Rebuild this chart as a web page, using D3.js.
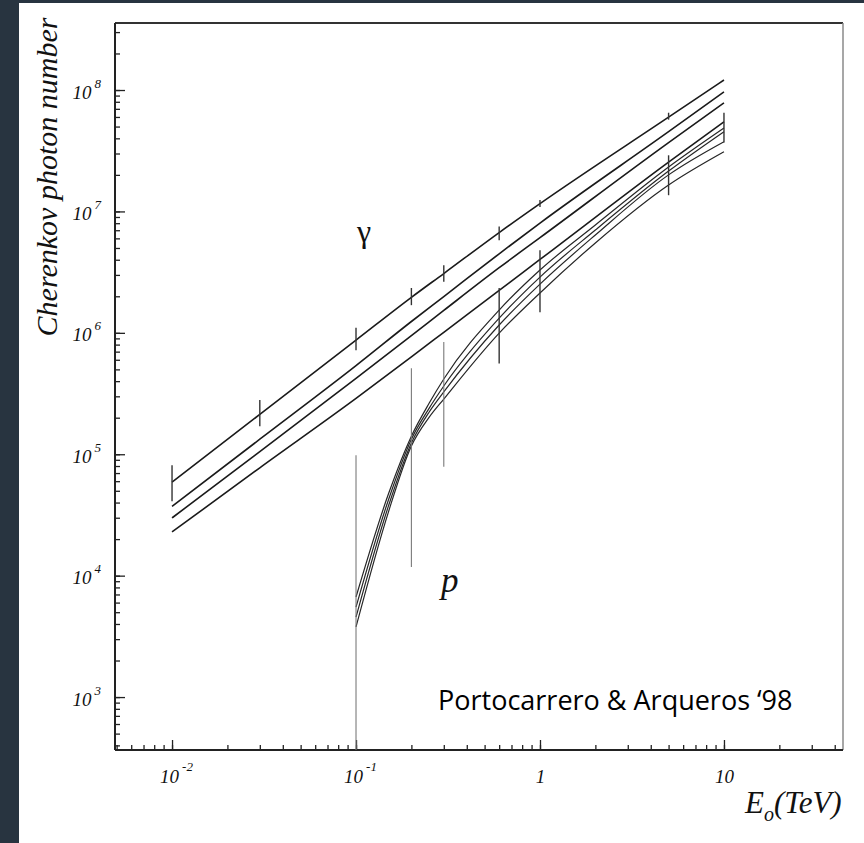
<!DOCTYPE html>
<html>
<head>
<meta charset="utf-8">
<script src="https://cdn.jsdelivr.net/npm/d3@7"></script>
<style>
  body { margin: 0; background: #283440; }
  svg { display: block; }
</style>
</head>
<body>
<div id="chart"></div>
<script>
// primary energies (TeV) the curves were read at
const gammaE = [0.01, 0.03, 0.1, 0.2, 0.3, 0.6, 1, 5, 10];
const gamma1 = [5.89e4, 2.13e5, 8.71e5, 1.96e6, 3.08e6, 6.70e6, 1.16e7, 5.98e7, 1.21e8];
const gamma2 = [3.72e4, 1.33e5, 5.37e5, 1.24e6, 1.99e6, 4.48e6, 8.02e6, 4.54e7, 9.64e7];
const gamma3 = [2.99e4, 1.05e5, 4.22e5, 9.48e5, 1.53e6, 3.44e6, 6.08e6, 3.69e7, 7.83e7];
const gamma4 = [2.29e4, 7.73e4, 2.88e5, 6.34e5, 1.01e6, 2.24e6, 4.02e6, 2.55e7, 5.48e7];

const protonE = [0.1, 0.15, 0.2, 0.25, 0.3, 0.6, 1, 2, 5, 10];
const proton1 = [6.67e3, 4.70e4, 1.41e5, 2.64e5, 4.17e5, 1.54e6, 3.29e6, 7.73e6, 2.32e7, 4.86e7];
const proton2 = [5.51e3, 4.20e4, 1.33e5, 2.40e5, 3.65e5, 1.32e6, 2.88e6, 7.03e6, 2.15e7, 4.54e7];
const proton3 = [4.56e3, 3.74e4, 1.24e5, 2.23e5, 3.26e5, 1.16e6, 2.52e6, 6.40e6, 2.00e7, 3.75e7];
const proton4 = [3.78e3, 3.34e4, 1.17e5, 2.02e5, 2.85e5, 9.95e5, 2.13e6, 5.50e6, 1.65e7, 3.10e7];

// fluctuation bars
const gammaErrE  = [0.01, 0.03, 0.1, 0.2, 0.3, 0.6, 1, 5];
const gammaErrHi = [8.1e4, 2.8e5, 1.1e6, 2.34e6, 3.6e6, 7.5e6, 1.24e7, 6.5e7];
const gammaErrLo = [4.1e4, 1.7e5, 7.2e5, 1.69e6, 2.64e6, 5.8e6, 1.09e7, 5.7e7];

const protonErrE  = [0.1, 0.2, 0.3, 0.6, 1, 5, 10];
const protonErrHi = [9.8e4, 5.1e5, 8.4e5, 2.34e6, 4.8e6, 2.9e7, 6.5e7];
const protonErrLo = [300, 1.18e4, 7.9e4, 5.6e5, 1.48e6, 1.36e7, 3.7e7];

const yMajor = [1e3, 1e4, 1e5, 1e6, 1e7, 1e8];
const xMajor = [0.01, 0.1, 1, 10];
const xMajorLabels = [["10", "-2"], ["10", "-1"], ["1", ""], ["10", ""]];

const width = 864, height = 843;
const m = { left: 115, right: 843, top: 23, bottom: 750 };

const x = d3.scaleLog().domain([Math.pow(10, -2.31), Math.pow(10, 1.647)]).range([m.left, m.right]);
const y = d3.scaleLog().domain([Math.pow(10, 2.564), Math.pow(10, 8.552)]).range([m.bottom, m.top]);

const svg = d3.select("#chart").append("svg")
  .attr("width", width)
  .attr("height", height);

svg.append("rect")
  .attr("x", 19).attr("y", 3)
  .attr("width", width - 19).attr("height", height - 3)
  .attr("fill", "#ffffff");

svg.append("clipPath").attr("id", "plot-clip")
  .append("rect")
  .attr("x", m.left).attr("y", m.top)
  .attr("width", m.right - m.left).attr("height", m.bottom - m.top);

const serif = "'Liberation Serif', 'DejaVu Serif', serif";

// ---- axes (ticks point inward) ----
const yMinor = svg.append("g")
  .attr("transform", `translate(${m.left},0)`)
  .call(d3.axisLeft(y).ticks(6).tickSize(-5).tickFormat(""));

const yMaj = svg.append("g")
  .attr("transform", `translate(${m.left},0)`)
  .call(d3.axisLeft(y).tickValues(yMajor).tickSize(-10).tickFormat(""));

const xMinor = svg.append("g")
  .attr("transform", `translate(0,${m.bottom})`)
  .call(d3.axisBottom(x).ticks(4).tickSize(-5).tickFormat(""));

const xMaj = svg.append("g")
  .attr("transform", `translate(0,${m.bottom})`)
  .call(d3.axisBottom(x).tickValues(xMajor).tickSize(-10).tickFormat(""));

[yMinor, yMaj, xMinor, xMaj].forEach(g => {
  g.select(".domain").remove();
  g.selectAll(".tick line").attr("stroke", "#222").attr("stroke-width", 1.3);
});

// y tick labels 10^n
yMaj.selectAll(".tick").append("text")
  .attr("x", -14).attr("y", 8)
  .attr("text-anchor", "end")
  .attr("fill", "#111")
  .style("font-family", serif)
  .style("font-style", "italic")
  .style("font-size", "19px")
  .each(function (d) {
    const t = d3.select(this);
    t.append("tspan").text("10");
    t.append("tspan")
      .attr("dx", 3).attr("dy", -11)
      .style("font-size", "13px")
      .text(Math.round(Math.log10(d)));
  });

// x tick labels
xMaj.selectAll(".tick").append("text")
  .attr("x", (d, i) => xMajorLabels[i][1] ? 4 : 0)
  .attr("y", 33)
  .attr("text-anchor", "middle")
  .attr("fill", "#111")
  .style("font-family", serif)
  .style("font-style", "italic")
  .style("font-size", "19px")
  .each(function (d, i) {
    const t = d3.select(this);
    t.append("tspan").text(xMajorLabels[i][0]);
    if (xMajorLabels[i][1]) {
      t.append("tspan")
        .attr("dx", 3).attr("dy", -12)
        .style("font-size", "13px")
        .text(xMajorLabels[i][1]);
    }
  });

// frame
svg.append("line").attr("x1", m.left).attr("x2", m.right).attr("y1", m.top).attr("y2", m.top)
  .attr("stroke", "#333").attr("stroke-width", 2);
svg.append("line").attr("x1", m.right).attr("x2", m.right).attr("y1", m.top).attr("y2", m.bottom)
  .attr("stroke", "#8a8a8a").attr("stroke-width", 1.5);
svg.append("line").attr("x1", m.left).attr("x2", m.left).attr("y1", m.top).attr("y2", m.bottom)
  .attr("stroke", "#222").attr("stroke-width", 2);
svg.append("line").attr("x1", m.left).attr("x2", m.right).attr("y1", m.bottom).attr("y2", m.bottom)
  .attr("stroke", "#222").attr("stroke-width", 2);

// ---- curves ----
const plot = svg.append("g").attr("clip-path", "url(#plot-clip)");

const line = d3.line()
  .x(d => x(d[0]))
  .y(d => y(d[1]))
  .curve(d3.curveMonotoneX);

const gammaSeries = [gamma1, gamma2, gamma3, gamma4];
const protonSeries = [proton1, proton2, proton3, proton4];

plot.selectAll(".gamma")
  .data(gammaSeries)
  .join("path")
  .attr("class", "gamma")
  .attr("fill", "none")
  .attr("stroke", "#1a1a1a")
  .attr("stroke-width", 1.6)
  .attr("d", s => line(s.map((v, i) => [gammaE[i], v])));

plot.selectAll(".proton")
  .data(protonSeries)
  .join("path")
  .attr("class", "proton")
  .attr("fill", "none")
  .attr("stroke", "#262626")
  .attr("stroke-width", 1.2)
  .attr("d", s => line(s.map((v, i) => [protonE[i], v])));

// error bars
plot.selectAll(".gerr")
  .data(gammaErrE)
  .join("line")
  .attr("class", "gerr")
  .attr("x1", d => x(d)).attr("x2", d => x(d))
  .attr("y1", (d, i) => y(gammaErrHi[i]))
  .attr("y2", (d, i) => y(gammaErrLo[i]))
  .attr("stroke", "#333")
  .attr("stroke-width", 1.4);

plot.selectAll(".perr")
  .data(protonErrE)
  .join("line")
  .attr("class", "perr")
  .attr("x1", d => x(d)).attr("x2", d => x(d))
  .attr("y1", (d, i) => y(protonErrHi[i]))
  .attr("y2", (d, i) => y(protonErrLo[i]))
  .attr("stroke", (d, i) => i < 3 ? "#7a7a7a" : "#333")
  .attr("stroke-width", (d, i) => i < 3 ? 1.1 : 1.4);

// ---- labels ----
svg.append("text")
  .attr("transform", "translate(57,177) rotate(-90)")
  .attr("text-anchor", "middle")
  .attr("fill", "#111")
  .style("font-family", serif)
  .style("font-style", "italic")
  .style("font-size", "30px")
  .text("Cherenkov photon number");

const xl = svg.append("text")
  .attr("x", 745).attr("y", 813)
  .attr("fill", "#111")
  .style("font-family", serif)
  .style("font-style", "italic")
  .style("font-size", "31px");
xl.append("tspan").text("E");
xl.append("tspan").attr("dy", 8).style("font-size", "20px").text("o");
xl.append("tspan").attr("dy", -8).text("(TeV)");

svg.append("text")
  .attr("x", 357).attr("y", 242)
  .attr("fill", "#111")
  .style("font-family", serif)
  .style("font-size", "32px")
  .text("γ");

svg.append("text")
  .attr("x", 441).attr("y", 592)
  .attr("fill", "#111")
  .style("font-family", serif)
  .style("font-style", "italic")
  .style("font-size", "35px")
  .text("p");

svg.append("text")
  .attr("x", 438).attr("y", 710)
  .attr("fill", "#000")
  .style("font-family", "'Open Sans', 'Noto Sans', sans-serif")
  .style("font-size", "27px")
  .text("Portocarrero & Arqueros ‘98");
</script>
</body>
</html>
